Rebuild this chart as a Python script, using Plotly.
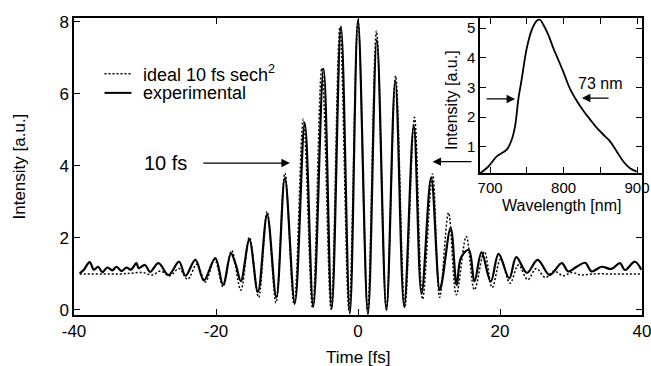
import plotly.graph_objects as go

# ---- Main autocorrelation data (extrema) ----
exp_t = [-39.2, -38.6, -37.8, -37.2, -36.6, -36.0, -35.3, -34.6, -34.0, -33.3, -32.6, -32.0,
         -31.2, -30.9, -30.0, -29.3, -28.1, -26.7, -25.2, -24.3, -22.9, -21.7, -20.1, -19.0,
         -17.9, -17.2, -16.5, -15.3, -14.1, -12.8, -11.5, -10.3, -8.9, -7.5, -6.3, -4.85,
         -3.7, -2.4, -1.15, 0.0, 1.4, 2.65, 4.0, 5.25, 6.5, 7.85, 8.95, 10.3, 11.5, 11.85,
         13.05, 13.9, 14.5, 15.6, 16.4, 17.4, 18.7, 19.8, 21.3, 22.3, 23.8, 25.3, 27.0,
         28.7, 29.6, 30.8, 32.0, 32.9, 34.3, 35.7, 36.9, 37.6, 39.0, 39.9]
exp_y = [1.02, 1.12, 1.33, 1.12, 1.20, 1.05, 1.18, 1.10, 1.20, 1.08, 1.18, 1.12,
         1.30, 1.16, 1.25, 1.06, 1.30, 0.97, 1.34, 0.95, 1.39, 0.82, 1.44, 0.70,
         1.57, 1.25, 0.80, 1.95, 0.50, 2.65, 0.35, 3.66, 0.19, 5.19, 0.09, 6.70,
         0.04, 7.88, -0.10, 8.06, -0.12, 7.50, 0.00, 6.36, 0.10, 5.12, 0.45, 3.68, 0.55, 0.80,
         2.28, 0.69, 1.45, 1.67, 0.79, 1.60, 0.79, 1.56, 0.88, 1.47, 1.03, 1.39, 0.97,
         1.30, 1.07, 1.20, 1.31, 1.07, 1.20, 1.14, 1.30, 1.11, 1.34, 1.12]

ideal_t = [-39.2, -36.0, -33.5, -32.0, -30.3, -29.0, -27.8, -26.5, -25.2, -24.0, -22.7, -21.5,
           -20.2, -19.0, -17.8, -16.5, -15.3, -14.0, -12.8, -11.55, -10.3, -9.0, -7.7, -6.4,
           -5.1, -3.8, -2.55, -1.27, 0.0, 1.35, 2.6, 4.0, 5.3, 6.6, 7.95, 9.1, 10.5, 11.5,
           12.75, 13.85, 15.25, 16.4, 17.8, 18.9, 20.1, 21.4, 22.6, 23.9, 25.1, 26.4, 27.6,
           28.9, 30.1, 31.4, 33.0, 36.0, 39.9]
ideal_y = [1.00, 1.00, 1.00, 1.02, 1.04, 0.97, 1.08, 0.95, 1.15, 0.85, 1.27, 0.78,
           1.40, 0.65, 1.65, 0.55, 2.02, 0.35, 2.73, 0.20, 3.80, 0.15, 5.30, 0.05,
           6.72, 0.02, 7.85, 0.00, 8.00, 0.00, 7.75, 0.02, 6.50, 0.06, 5.35, 0.30, 3.78, 0.35,
           2.70, 0.42, 2.04, 0.56, 1.62, 0.62, 1.42, 0.74, 1.25, 0.84, 1.15, 0.90, 1.08,
           0.95, 1.04, 0.97, 1.00, 1.00, 1.00]

# ---- Inset spectrum ----
wl_nm = [686.4, 697.7, 709.1, 722.7, 729.5, 734.0, 738.5, 743.1, 749.9, 756.7, 763.5, 768.0,
         772.5, 779.3, 786.1, 793.0, 799.7, 808.8, 817.9, 827.0, 836.0, 845.0, 854.0, 863.3,
         872.4, 881.4, 890.5, 899.6]
spec = [0.10, 0.33, 0.67, 0.90, 1.24, 1.69, 2.61, 3.29, 4.32, 4.94, 5.25, 5.28,
        5.11, 4.77, 4.32, 3.92, 3.52, 2.95, 2.55, 2.21, 1.92, 1.64, 1.41, 1.18,
        0.84, 0.50, 0.27, 0.16]

main_xticks = [-40, -20, 0, 20, 40]
main_xtext = ["-40", "-20", "0", "20", "40"]
main_yticks = [0, 2, 4, 6, 8]
inset_xticks = [700, 750, 800, 850, 900]
inset_xtext = ["700", "", "800", "", "900"]
inset_yticks = [1, 2, 3, 4, 5]

FONT = "Liberation Sans, Arial, Helvetica, sans-serif"

fig = go.Figure()
fig.add_trace(go.Scatter(x=ideal_t, y=ideal_y, mode="lines", line_shape="spline",
                         line=dict(color="black", width=1.5, dash="2px,2px"),
                         showlegend=False))
fig.add_trace(go.Scatter(x=exp_t, y=exp_y, mode="lines", line_shape="spline",
                         line=dict(color="black", width=2.2), showlegend=False))
fig.add_trace(go.Scatter(x=wl_nm, y=spec, mode="lines", line_shape="spline",
                         line=dict(color="black", width=1.8), xaxis="x2", yaxis="y2",
                         showlegend=False))

axis_common = dict(showline=True, linecolor="black", linewidth=1.5, mirror="ticks",
                   ticks="inside", ticklen=6, tickwidth=1.3, tickcolor="black",
                   showgrid=False, zeroline=False, color="black", automargin=False,
                   ticklabeloverflow="allow")

fig.update_layout(
    width=651, height=366,
    margin=dict(l=74, r=9, t=18, b=51),
    paper_bgcolor="white", plot_bgcolor="white",
    font=dict(family=FONT, size=17, color="black"),
    xaxis=dict(range=[-40, 40], tickvals=main_xticks, ticktext=main_xtext, domain=[0, 1],
               tickfont=dict(size=17), **axis_common),
    yaxis=dict(range=[-0.14, 8.11], tickvals=main_yticks, domain=[0, 1],
               tickfont=dict(size=17), **axis_common),
    xaxis2=dict(range=[686.4, 906.8], tickvals=inset_xticks, ticktext=inset_xtext,
                domain=[0.715, 1.0], anchor="y2", tickfont=dict(size=15), **axis_common),
    yaxis2=dict(range=[0.11, 5.34], tickvals=inset_yticks, domain=[0.478, 1.0],
                anchor="x2", tickfont=dict(size=15), **axis_common),
)

annotations = [
    dict(text="Time [fs]", x=0, y=0, xref="x", yref="paper", xanchor="center",
         yanchor="middle", yshift=-42, showarrow=False, font=dict(size=17)),
    dict(text="Intensity [a.u.]", x=0, y=0.5, xref="paper", yref="paper",
         xanchor="center", yanchor="middle", xshift=-55, textangle=-90,
         showarrow=False, font=dict(size=17)),
    dict(text="Intensity [a.u.]", x=0.6655, y=0.724, xref="paper", yref="paper",
         xanchor="center", yanchor="middle", textangle=-90, showarrow=False,
         font=dict(size=16)),
    dict(text="Wavelength [nm]", x=0.859, y=0.37, xref="paper", yref="paper",
         xanchor="center", yanchor="middle", showarrow=False, font=dict(size=16)),
    # legend texts
    dict(text="ideal 10 fs sech<sup>2</sup>", x=-30.6, y=6.56, xref="x", yref="y",
         xanchor="left", yanchor="middle", showarrow=False, font=dict(size=18)),
    dict(text="experimental", x=-30.6, y=6.03, xref="x", yref="y",
         xanchor="left", yanchor="middle", showarrow=False, font=dict(size=18)),
    # 10 fs label and arrows
    dict(text="10 fs", x=-27.1, y=4.08, xref="x", yref="y", xanchor="center",
         yanchor="middle", showarrow=False, font=dict(size=20)),
    dict(text="", x=-9.6, y=4.08, ax=-22, ay=4.08, xref="x", yref="y", axref="x",
         ayref="y", showarrow=True, arrowhead=2, arrowsize=1.3, arrowwidth=1.3,
         arrowcolor="black"),
    dict(text="", x=10.5, y=4.12, ax=16.2, ay=4.12, xref="x", yref="y", axref="x",
         ayref="y", showarrow=True, arrowhead=2, arrowsize=1.3, arrowwidth=1.3,
         arrowcolor="black"),
    # inset FWHM arrows
    dict(text="", x=734, y=2.61, ax=693.2, ay=2.61, xref="x2", yref="y2", axref="x2",
         ayref="y2", showarrow=True, arrowhead=2, arrowsize=1.3, arrowwidth=1.3,
         arrowcolor="black"),
    dict(text="", x=825, y=2.64, ax=863.3, ay=2.64, xref="x2", yref="y2", axref="x2",
         ayref="y2", showarrow=True, arrowhead=2, arrowsize=1.3, arrowwidth=1.3,
         arrowcolor="black"),
    dict(text="73 nm", x=849.7, y=3.12, xref="x2", yref="y2", xanchor="center",
         yanchor="middle", showarrow=False, font=dict(size=16)),
]
fig.update_layout(annotations=annotations)

shapes = [
    dict(type="line", x0=-35.7, x1=-31.9, y0=6.56, y1=6.56, xref="x", yref="y",
         line=dict(color="black", width=1.5, dash="2px,2px")),
    dict(type="line", x0=-35.7, x1=-31.9, y0=6.03, y1=6.03, xref="x", yref="y",
         line=dict(color="black", width=2)),
]
fig.update_layout(shapes=shapes)

# remove the default 8px page margin so the figure fills the window exactly
fig.write_html("out.html",
               config={"displayModeBar": False},
               post_script="document.body.style.margin='0';"
                           "document.body.style.overflow='hidden';")
